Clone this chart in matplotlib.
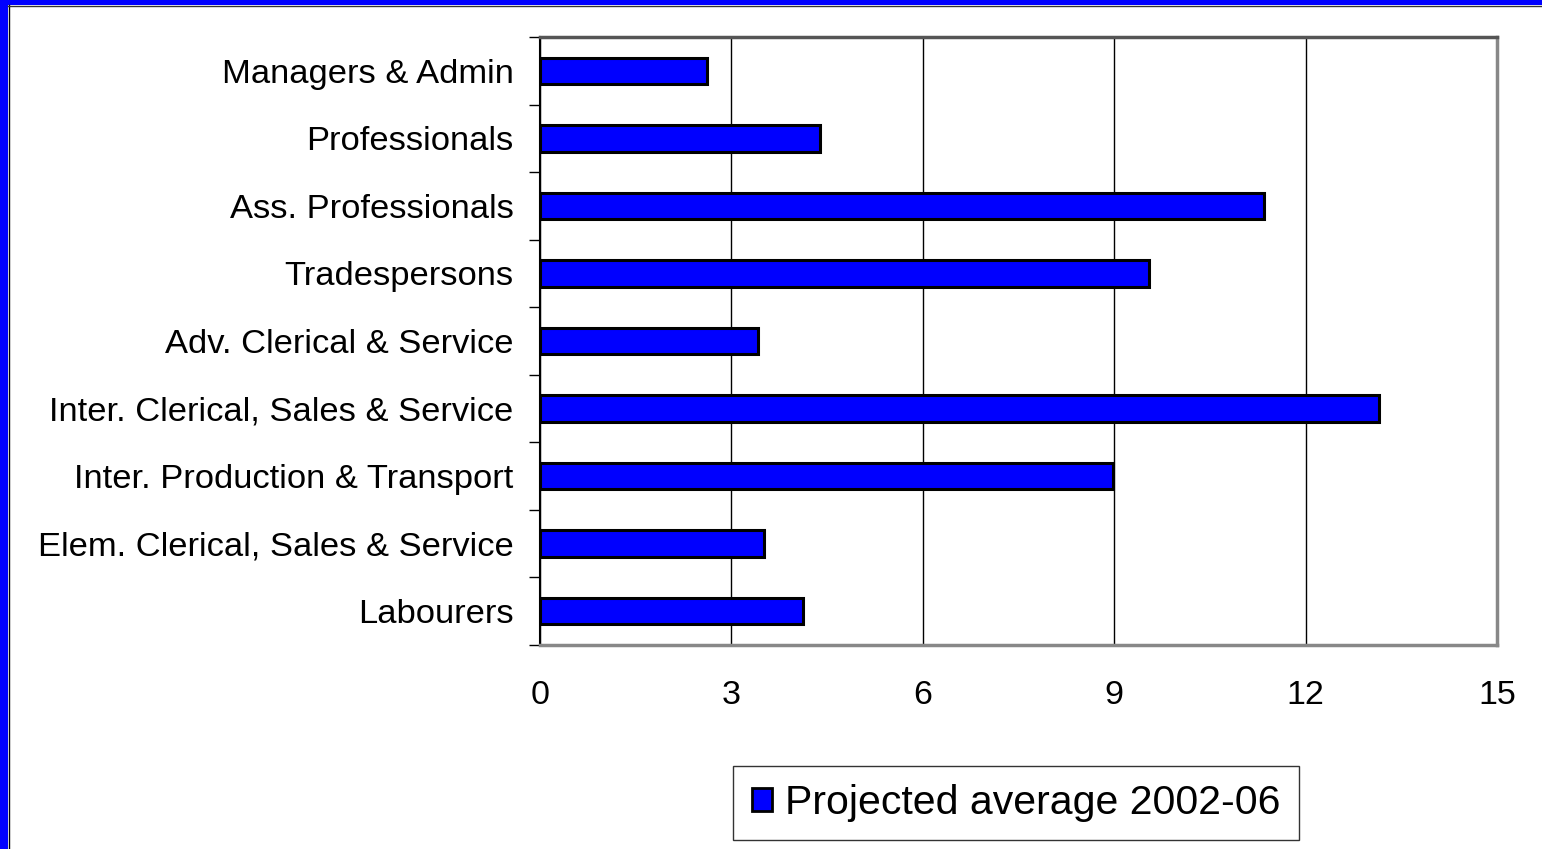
import numpy as np
import matplotlib.pyplot as plt
from matplotlib.patches import Rectangle, Patch

plt.rcParams['font.family'] = ['Liberation Sans', 'DejaVu Sans']

categories = ['Managers & Admin', 'Professionals', 'Ass. Professionals',
              'Tradespersons', 'Adv. Clerical & Service',
              'Inter. Clerical, Sales & Service',
              'Inter. Production & Transport',
              'Elem. Clerical, Sales & Service', 'Labourers']
values = [2.62, 4.39, 11.35, 9.55, 3.42, 13.15, 8.98, 3.51, 4.12]
x_ticks = [0, 3, 6, 9, 12, 15]
series_name = 'Projected average 2002-06'

fig = plt.figure(figsize=(15.42, 8.49), dpi=100, facecolor='white')
ax = fig.add_axes([540 / 1542, 1 - 645 / 849, 957 / 1542, 608 / 849])

y_pos = np.arange(len(categories))
ax.barh(y_pos, values, height=0.39, color='#0000FF', edgecolor='black',
        linewidth=2.2, zorder=3)

ax.set_xlim(0, 15)
ax.set_ylim(len(categories) - 0.5, -0.5)
ax.set_xticks(x_ticks)
ax.set_xticklabels([str(t) for t in x_ticks], fontsize=24.5)
ax.tick_params(axis='x', length=0, pad=25)
ax.set_yticks(y_pos)
ax.set_yticklabels(categories, fontsize=24.8)
ax.tick_params(axis='y', which='major', length=0, pad=19)
ax.set_yticks(np.arange(len(categories) + 1) - 0.5, minor=True)
ax.tick_params(axis='y', which='minor', length=8, width=1, color='black')
ax.grid(axis='x', color='black', linewidth=1, zorder=0)

ax.spines['left'].set_color('black')
ax.spines['left'].set_linewidth(1.5)
for side in ['top', 'right', 'bottom']:
    ax.spines[side].set_color('#888888')
    ax.spines[side].set_linewidth(2.5)
ax.spines['top'].set_color('#555555')

handle = Patch(facecolor='#0000FF', edgecolor='black', linewidth=2)
leg = fig.legend([handle], [series_name], loc='center',
                 bbox_to_anchor=(1016 / 1542, 1 - 803 / 849),
                 fontsize=29.5, frameon=True, fancybox=False,
                 handlelength=0.5, handleheight=0.5, handletextpad=0.3,
                 borderpad=0.45, borderaxespad=0)
leg.get_frame().set_edgecolor('black')
leg.get_frame().set_linewidth(1)

# blue frame (left and top edges)
fig.patches.append(Rectangle((0, 0), 8 / 1542, 1, transform=fig.transFigure,
                             facecolor='#0000FF', edgecolor='none'))
fig.patches.append(Rectangle((0, 1 - 5 / 849), 1, 5 / 849,
                             transform=fig.transFigure,
                             facecolor='#0000FF', edgecolor='none'))
fig.add_artist(plt.Line2D([8.5 / 1542, 8.5 / 1542], [0, 1 - 5 / 849],
                          transform=fig.transFigure, color='black', lw=1))
fig.add_artist(plt.Line2D([8 / 1542, 1], [1 - 6 / 849, 1 - 6 / 849],
                          transform=fig.transFigure, color='#333333', lw=1))

plt.savefig('out.png', dpi=100)
plt.close()
